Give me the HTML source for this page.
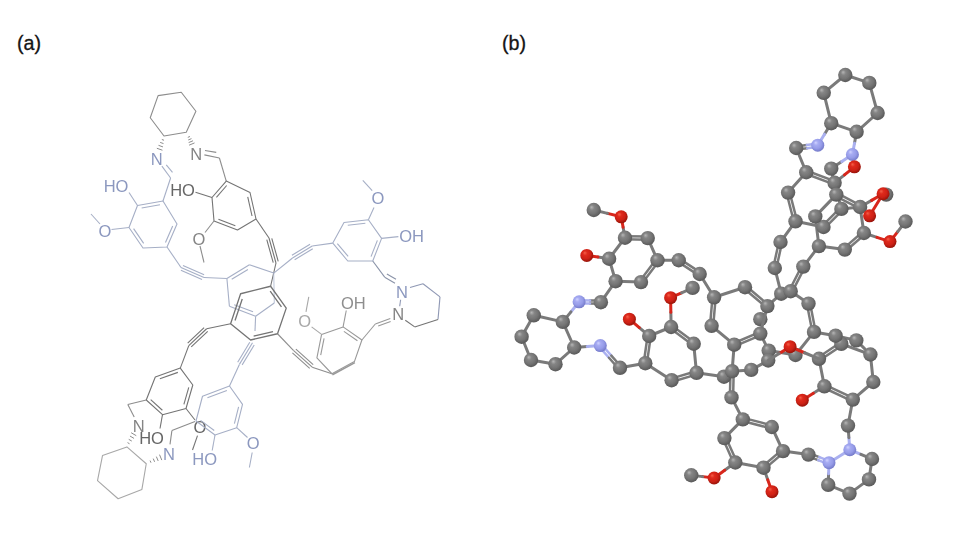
<!DOCTYPE html>
<html><head><meta charset="utf-8"><style>
html,body{margin:0;padding:0;background:#fff;}
body{width:960px;height:545px;overflow:hidden;font-family:"Liberation Sans",sans-serif;}
svg{display:block;font-family:"Liberation Sans",sans-serif;}
</style></head><body>
<svg width="960" height="545" viewBox="0 0 960 545">
<rect width="960" height="545" fill="#ffffff"/>
<text x="17" y="50" font-size="19.7" fill="#151515" stroke="#151515" stroke-width="0.3">(a)</text>
<text x="502" y="50" font-size="19.7" fill="#151515" stroke="#151515" stroke-width="0.3">(b)</text>
<defs><filter id="sa" x="-5%" y="-5%" width="110%" height="110%"><feGaussianBlur stdDeviation="0.45"/></filter><filter id="sb" x="-5%" y="-5%" width="110%" height="110%"><feGaussianBlur stdDeviation="0.55"/></filter></defs>
<g id="pa" filter="url(#sa)">
<polygon points="158.10,95.60 181.25,92.25 195.90,111.25 186.25,132.25 164.00,136.00 150.25,117.75" fill="none" stroke="#8d8d8d" stroke-width="1.1" stroke-linejoin="round"/>
<line x1="164.03" y1="140.26" x2="161.85" y2="139.49" stroke="#8d8d8d" stroke-width="1.0"/>
<line x1="163.50" y1="143.58" x2="160.18" y2="142.42" stroke="#8d8d8d" stroke-width="1.0"/>
<line x1="162.97" y1="146.91" x2="158.51" y2="145.34" stroke="#8d8d8d" stroke-width="1.0"/>
<line x1="162.43" y1="150.23" x2="156.85" y2="148.27" stroke="#8d8d8d" stroke-width="1.0"/>
<line x1="189.96" y1="136.48" x2="187.81" y2="137.37" stroke="#8d8d8d" stroke-width="1.0"/>
<line x1="191.49" y1="138.63" x2="188.23" y2="139.97" stroke="#8d8d8d" stroke-width="1.0"/>
<line x1="193.02" y1="140.78" x2="188.65" y2="142.57" stroke="#8d8d8d" stroke-width="1.0"/>
<line x1="194.55" y1="142.93" x2="189.07" y2="145.17" stroke="#8d8d8d" stroke-width="1.0"/>
<text x="156.60" y="165.16" font-size="16.5" fill="#8c98bf" text-anchor="middle">N</text>
<text x="196.25" y="159.51" font-size="16.5" fill="#858585" text-anchor="middle">N</text>
<line x1="204.40" y1="154.90" x2="219.40" y2="158.00" stroke="#8d8d8d" stroke-width="1.1"/>
<line x1="205.00" y1="150.50" x2="216.25" y2="152.40" stroke="#8d8d8d" stroke-width="1.1"/>
<line x1="219.40" y1="158.00" x2="226.25" y2="181.10" stroke="#8d8d8d" stroke-width="1.1"/>
<line x1="161.90" y1="166.10" x2="170.60" y2="178.00" stroke="#a6afc6" stroke-width="1.1"/>
<line x1="166.25" y1="164.90" x2="172.50" y2="172.40" stroke="#a6afc6" stroke-width="1.1"/>
<line x1="170.60" y1="178.00" x2="163.00" y2="201.00" stroke="#a6afc6" stroke-width="1.1"/>
<polygon points="137.50,205.50 163.00,201.00 177.00,224.00 167.00,247.00 143.00,248.00 129.00,227.50" fill="none" stroke="#a6afc6" stroke-width="1.1" stroke-linejoin="round"/>
<line x1="141.63" y1="208.02" x2="159.99" y2="204.78" stroke="#a6afc6" stroke-width="1.1"/>
<line x1="172.67" y1="225.94" x2="165.47" y2="242.50" stroke="#a6afc6" stroke-width="1.1"/>
<line x1="143.68" y1="243.33" x2="133.60" y2="228.57" stroke="#a6afc6" stroke-width="1.1"/>
<text x="116.00" y="192.41" font-size="16.5" fill="#8c98bf" text-anchor="middle">HO</text>
<line x1="129.00" y1="192.50" x2="137.50" y2="205.50" stroke="#a6afc6" stroke-width="1.1"/>
<text x="105.00" y="236.91" font-size="16.5" fill="#8c98bf" text-anchor="middle">O</text>
<line x1="129.00" y1="227.50" x2="111.50" y2="229.50" stroke="#a6afc6" stroke-width="1.1"/>
<line x1="100.00" y1="224.00" x2="91.00" y2="214.00" stroke="#a6afc6" stroke-width="1.1"/>
<line x1="167.00" y1="247.00" x2="181.00" y2="267.50" stroke="#a6afc6" stroke-width="1.1"/>
<line x1="181.00" y1="267.50" x2="204.00" y2="277.50" stroke="#a6afc6" stroke-width="1.1"/>
<line x1="180.88" y1="270.28" x2="202.04" y2="279.48" stroke="#a6afc6" stroke-width="1.1"/>
<line x1="182.96" y1="265.52" x2="204.12" y2="274.72" stroke="#a6afc6" stroke-width="1.1"/>
<line x1="204.00" y1="277.50" x2="226.90" y2="278.50" stroke="#a6afc6" stroke-width="1.1"/>
<polygon points="226.25,181.10 250.00,192.50 256.00,219.00 237.50,230.00 214.00,221.00 212.00,197.50" fill="none" stroke="#747474" stroke-width="1.1" stroke-linejoin="round"/>
<line x1="247.72" y1="196.92" x2="252.04" y2="216.00" stroke="#747474" stroke-width="1.1"/>
<line x1="235.35" y1="225.75" x2="218.43" y2="219.27" stroke="#747474" stroke-width="1.1"/>
<line x1="216.41" y1="197.30" x2="226.67" y2="185.49" stroke="#747474" stroke-width="1.1"/>
<text x="182.50" y="196.41" font-size="16.5" fill="#666666" text-anchor="middle">HO</text>
<line x1="195.50" y1="192.30" x2="212.00" y2="197.50" stroke="#747474" stroke-width="1.1"/>
<text x="199.00" y="244.91" font-size="16.5" fill="#858585" text-anchor="middle">O</text>
<line x1="214.00" y1="221.00" x2="205.00" y2="232.50" stroke="#8d8d8d" stroke-width="1.1"/>
<line x1="200.00" y1="246.00" x2="204.00" y2="262.50" stroke="#8d8d8d" stroke-width="1.1"/>
<line x1="256.00" y1="219.00" x2="269.00" y2="238.00" stroke="#747474" stroke-width="1.1"/>
<line x1="269.00" y1="238.00" x2="276.00" y2="263.00" stroke="#747474" stroke-width="1.1"/>
<line x1="266.78" y1="239.70" x2="273.22" y2="262.70" stroke="#747474" stroke-width="1.1"/>
<line x1="271.78" y1="238.30" x2="278.22" y2="261.30" stroke="#747474" stroke-width="1.1"/>
<line x1="276.00" y1="263.00" x2="270.60" y2="286.25" stroke="#747474" stroke-width="1.1"/>
<line x1="226.90" y1="278.50" x2="249.40" y2="264.75" stroke="#a6afc6" stroke-width="1.1"/>
<line x1="249.40" y1="264.75" x2="273.75" y2="273.10" stroke="#a6afc6" stroke-width="1.1"/>
<line x1="273.75" y1="273.10" x2="274.30" y2="303.00" stroke="#b4bdd2" stroke-width="0.9"/>
<line x1="274.30" y1="303.00" x2="255.60" y2="316.25" stroke="#a6afc6" stroke-width="1.1"/>
<line x1="255.60" y1="316.25" x2="229.40" y2="306.25" stroke="#a6afc6" stroke-width="1.1"/>
<line x1="229.40" y1="306.25" x2="226.90" y2="278.50" stroke="#a6afc6" stroke-width="1.1"/>
<line x1="231.72" y1="279.31" x2="247.92" y2="269.41" stroke="#a6afc6" stroke-width="1.1"/>
<line x1="253.07" y1="311.86" x2="234.21" y2="304.66" stroke="#a6afc6" stroke-width="1.1"/>
<line x1="255.60" y1="316.25" x2="255.00" y2="331.00" stroke="#a6afc6" stroke-width="1.1"/>
<line x1="252.50" y1="342.80" x2="239.40" y2="364.40" stroke="#a6afc6" stroke-width="1.1"/>
<line x1="249.75" y1="342.32" x2="237.70" y2="362.19" stroke="#a6afc6" stroke-width="1.1"/>
<line x1="254.20" y1="345.01" x2="242.15" y2="364.88" stroke="#a6afc6" stroke-width="1.1"/>
<line x1="239.40" y1="364.40" x2="229.50" y2="386.00" stroke="#a6afc6" stroke-width="1.1"/>
<line x1="332.80" y1="243.10" x2="312.20" y2="246.00" stroke="#a6afc6" stroke-width="1.1"/>
<line x1="312.20" y1="246.00" x2="292.50" y2="258.00" stroke="#a6afc6" stroke-width="1.1"/>
<line x1="310.06" y1="244.26" x2="291.94" y2="255.30" stroke="#a6afc6" stroke-width="1.1"/>
<line x1="312.76" y1="248.70" x2="294.64" y2="259.74" stroke="#a6afc6" stroke-width="1.1"/>
<line x1="292.50" y1="258.00" x2="273.75" y2="273.10" stroke="#a6afc6" stroke-width="1.1"/>
<polygon points="240.60,293.75 270.60,286.25 286.25,308.10 277.50,333.75 250.60,340.00 230.60,323.75" fill="none" stroke="#747474" stroke-width="1.3" stroke-linejoin="round"/>
<line x1="270.19" y1="291.17" x2="281.46" y2="306.90" stroke="#747474" stroke-width="1.3"/>
<line x1="273.01" y1="331.51" x2="253.64" y2="336.01" stroke="#747474" stroke-width="1.3"/>
<line x1="235.04" y1="320.56" x2="242.24" y2="298.96" stroke="#747474" stroke-width="1.3"/>
<line x1="230.60" y1="323.75" x2="206.60" y2="328.75" stroke="#747474" stroke-width="1.1"/>
<line x1="206.60" y1="328.75" x2="188.75" y2="345.60" stroke="#747474" stroke-width="1.1"/>
<line x1="204.10" y1="327.53" x2="187.68" y2="343.04" stroke="#747474" stroke-width="1.1"/>
<line x1="207.67" y1="331.31" x2="191.25" y2="346.82" stroke="#747474" stroke-width="1.1"/>
<line x1="188.75" y1="345.60" x2="180.30" y2="368.10" stroke="#747474" stroke-width="1.1"/>
<line x1="277.50" y1="333.75" x2="293.40" y2="350.30" stroke="#8d8d8d" stroke-width="1.1"/>
<line x1="293.40" y1="350.30" x2="312.20" y2="367.20" stroke="#8d8d8d" stroke-width="1.1"/>
<line x1="292.41" y1="352.91" x2="309.71" y2="368.46" stroke="#8d8d8d" stroke-width="1.1"/>
<line x1="295.89" y1="349.04" x2="313.19" y2="364.59" stroke="#8d8d8d" stroke-width="1.1"/>
<line x1="312.20" y1="367.20" x2="331.90" y2="373.75" stroke="#8d8d8d" stroke-width="1.1"/>
<polygon points="332.80,243.10 344.00,222.50 368.40,219.70 381.60,238.40 372.75,261.00 347.80,261.00" fill="none" stroke="#a6afc6" stroke-width="1.1" stroke-linejoin="round"/>
<line x1="347.78" y1="225.29" x2="365.35" y2="223.27" stroke="#a6afc6" stroke-width="1.1"/>
<line x1="377.38" y1="240.40" x2="371.01" y2="256.67" stroke="#a6afc6" stroke-width="1.1"/>
<line x1="348.15" y1="256.44" x2="337.35" y2="243.55" stroke="#a6afc6" stroke-width="1.1"/>
<text x="377.80" y="203.91" font-size="16.5" fill="#8c98bf" text-anchor="middle">O</text>
<line x1="368.40" y1="219.70" x2="374.00" y2="207.50" stroke="#a6afc6" stroke-width="1.1"/>
<line x1="362.80" y1="180.30" x2="372.20" y2="190.60" stroke="#a6afc6" stroke-width="1.1"/>
<text x="411.50" y="241.51" font-size="16.5" fill="#8c98bf" text-anchor="middle">OH</text>
<line x1="381.60" y1="238.40" x2="398.40" y2="236.60" stroke="#a6afc6" stroke-width="1.1"/>
<line x1="372.75" y1="261.00" x2="384.70" y2="277.20" stroke="#8a93a8" stroke-width="1.1"/>
<line x1="384.70" y1="277.20" x2="395.00" y2="283.20" stroke="#8a93a8" stroke-width="1.1"/>
<line x1="386.90" y1="273.90" x2="396.00" y2="279.20" stroke="#8a93a8" stroke-width="1.1"/>
<text x="402.00" y="297.51" font-size="16.5" fill="#8c98bf" text-anchor="middle">N</text>
<text x="398.20" y="319.66" font-size="16.5" fill="#858585" text-anchor="middle">N</text>
<line x1="410.00" y1="287.50" x2="423.00" y2="283.75" stroke="#8f98b4" stroke-width="1.1"/>
<line x1="423.00" y1="283.75" x2="440.00" y2="296.90" stroke="#8f98b4" stroke-width="1.1"/>
<line x1="440.00" y1="296.90" x2="438.00" y2="319.40" stroke="#8f98b4" stroke-width="1.1"/>
<line x1="438.00" y1="319.40" x2="414.70" y2="326.90" stroke="#747474" stroke-width="1.1"/>
<line x1="414.70" y1="326.90" x2="405.30" y2="320.30" stroke="#747474" stroke-width="1.1"/>
<line x1="400.60" y1="299.70" x2="399.70" y2="306.25" stroke="#8f98b4" stroke-width="1.1"/>
<line x1="390.30" y1="318.40" x2="375.30" y2="324.00" stroke="#999999" stroke-width="1.1"/>
<line x1="390.60" y1="321.40" x2="378.20" y2="326.00" stroke="#999999" stroke-width="1.1"/>
<line x1="375.30" y1="324.00" x2="361.90" y2="340.00" stroke="#999999" stroke-width="1.1"/>
<polygon points="343.10,326.90 361.90,340.00 354.40,361.60 331.90,373.75 316.90,357.80 321.60,334.40" fill="none" stroke="#999999" stroke-width="1.1" stroke-linejoin="round"/>
<line x1="343.90" y1="331.36" x2="357.44" y2="340.79" stroke="#999999" stroke-width="1.1"/>
<line x1="320.70" y1="355.15" x2="324.08" y2="338.31" stroke="#999999" stroke-width="1.1"/>
<line x1="354.90" y1="362.60" x2="332.40" y2="374.75" stroke="#999999" stroke-width="1.6"/>
<text x="353.40" y="309.31" font-size="16.5" fill="#8e8e8e" text-anchor="middle">OH</text>
<line x1="346.25" y1="310.50" x2="343.10" y2="326.90" stroke="#999999" stroke-width="1.1"/>
<text x="304.60" y="327.16" font-size="16.5" fill="#a8a8a8" text-anchor="middle">O</text>
<line x1="308.75" y1="296.90" x2="306.00" y2="311.90" stroke="#a8a8a8" stroke-width="1.1"/>
<line x1="311.60" y1="326.90" x2="321.60" y2="334.40" stroke="#a8a8a8" stroke-width="1.1"/>
<polygon points="180.30,368.10 155.30,377.00 146.25,400.00 162.50,414.70 186.00,408.50 192.80,385.00" fill="none" stroke="#747474" stroke-width="1.1" stroke-linejoin="round"/>
<line x1="177.87" y1="372.36" x2="159.87" y2="378.77" stroke="#747474" stroke-width="1.1"/>
<line x1="150.67" y1="399.68" x2="162.37" y2="410.27" stroke="#747474" stroke-width="1.1"/>
<line x1="183.88" y1="404.32" x2="188.77" y2="387.40" stroke="#747474" stroke-width="1.1"/>
<line x1="146.25" y1="400.00" x2="127.80" y2="404.50" stroke="#8d8d8d" stroke-width="1.1"/>
<line x1="127.80" y1="404.50" x2="134.20" y2="417.00" stroke="#8d8d8d" stroke-width="1.1"/>
<text x="138.75" y="431.51" font-size="16.5" fill="#858585" text-anchor="middle">N</text>
<text x="151.50" y="444.41" font-size="16.5" fill="#666666" text-anchor="middle">HO</text>
<line x1="162.50" y1="414.70" x2="160.00" y2="428.50" stroke="#747474" stroke-width="1.1"/>
<line x1="186.00" y1="408.50" x2="195.00" y2="420.00" stroke="#747474" stroke-width="1.1"/>
<text x="200.00" y="432.91" font-size="16.5" fill="#666666" text-anchor="middle">O</text>
<line x1="197.50" y1="435.60" x2="192.50" y2="450.00" stroke="#747474" stroke-width="1.1"/>
<polygon points="229.50,386.00 202.50,396.25 196.00,421.00 215.00,435.00 236.70,427.70 242.50,404.40" fill="none" stroke="#a6afc6" stroke-width="1.1" stroke-linejoin="round"/>
<line x1="226.86" y1="390.43" x2="207.42" y2="397.81" stroke="#a6afc6" stroke-width="1.1"/>
<line x1="200.56" y1="420.38" x2="214.24" y2="430.46" stroke="#a6afc6" stroke-width="1.1"/>
<line x1="234.41" y1="423.67" x2="238.58" y2="406.89" stroke="#a6afc6" stroke-width="1.1"/>
<line x1="195.00" y1="421.50" x2="171.90" y2="430.60" stroke="#8d8d8d" stroke-width="1.1"/>
<line x1="171.90" y1="430.60" x2="170.00" y2="444.40" stroke="#8d8d8d" stroke-width="1.1"/>
<text x="169.00" y="459.66" font-size="16.5" fill="#8c98bf" text-anchor="middle">N</text>
<text x="204.70" y="464.91" font-size="16.5" fill="#8c98bf" text-anchor="middle">HO</text>
<line x1="215.00" y1="435.00" x2="212.20" y2="450.50" stroke="#a6afc6" stroke-width="1.1"/>
<text x="253.10" y="449.41" font-size="16.5" fill="#8c98bf" text-anchor="middle">O</text>
<line x1="236.70" y1="427.70" x2="247.50" y2="437.50" stroke="#a6afc6" stroke-width="1.1"/>
<line x1="252.20" y1="452.50" x2="249.40" y2="467.50" stroke="#a6afc6" stroke-width="1.1"/>
<polygon points="126.90,446.90 146.25,463.75 141.90,489.40 118.10,498.75 97.50,480.60 102.50,455.60" fill="none" stroke="#a8a8a8" stroke-width="1.1" stroke-linejoin="round"/>
<line x1="127.53" y1="442.62" x2="129.54" y2="443.78" stroke="#8d8d8d" stroke-width="1.0"/>
<line x1="128.73" y1="439.32" x2="131.79" y2="441.08" stroke="#8d8d8d" stroke-width="1.0"/>
<line x1="129.94" y1="436.02" x2="134.03" y2="438.38" stroke="#8d8d8d" stroke-width="1.0"/>
<line x1="131.14" y1="432.72" x2="136.28" y2="435.68" stroke="#8d8d8d" stroke-width="1.0"/>
<line x1="150.07" y1="460.58" x2="150.98" y2="462.71" stroke="#8d8d8d" stroke-width="1.0"/>
<line x1="153.22" y1="458.60" x2="154.58" y2="461.84" stroke="#8d8d8d" stroke-width="1.0"/>
<line x1="156.36" y1="456.62" x2="158.19" y2="460.97" stroke="#8d8d8d" stroke-width="1.0"/>
<line x1="159.50" y1="454.64" x2="161.80" y2="460.10" stroke="#8d8d8d" stroke-width="1.0"/>
</g>
<g id="pb" filter="url(#sb)">
<defs>
<radialGradient id="gC" cx="0.45" cy="0.42" r="0.62" fx="0.34" fy="0.3"><stop offset="0" stop-color="#b6b6b6"/><stop offset="0.28" stop-color="#858585"/><stop offset="0.62" stop-color="#747474"/><stop offset="1" stop-color="#545454"/></radialGradient>
<radialGradient id="gN" cx="0.45" cy="0.42" r="0.62" fx="0.34" fy="0.3"><stop offset="0" stop-color="#d0d3ff"/><stop offset="0.28" stop-color="#a6abf2"/><stop offset="0.62" stop-color="#969ce8"/><stop offset="1" stop-color="#6e74c4"/></radialGradient>
<radialGradient id="gO" cx="0.45" cy="0.42" r="0.62" fx="0.34" fy="0.3"><stop offset="0" stop-color="#f4604a"/><stop offset="0.28" stop-color="#de2a1c"/><stop offset="0.62" stop-color="#cf2216"/><stop offset="1" stop-color="#8e1208"/></radialGradient>
</defs>
<circle cx="760.30" cy="319.20" r="7.2" fill="url(#gC)"/>
<line x1="845.30" y1="75.00" x2="869.30" y2="82.90" stroke="#7a7a7a" stroke-width="3.0" stroke-linecap="round"/>
<line x1="869.30" y1="82.90" x2="877.60" y2="113.00" stroke="#7a7a7a" stroke-width="3.0" stroke-linecap="round"/>
<line x1="877.60" y1="113.00" x2="856.60" y2="131.80" stroke="#7a7a7a" stroke-width="3.0" stroke-linecap="round"/>
<line x1="856.60" y1="131.80" x2="831.25" y2="123.20" stroke="#7a7a7a" stroke-width="3.0" stroke-linecap="round"/>
<line x1="831.25" y1="123.20" x2="823.75" y2="92.80" stroke="#7a7a7a" stroke-width="3.0" stroke-linecap="round"/>
<line x1="823.75" y1="92.80" x2="845.30" y2="75.00" stroke="#7a7a7a" stroke-width="3.0" stroke-linecap="round"/>
<line x1="831.25" y1="123.20" x2="824.50" y2="134.20" stroke="#7a7a7a" stroke-width="3.0" stroke-linecap="round"/>
<line x1="824.50" y1="134.20" x2="817.75" y2="145.20" stroke="#aab0f0" stroke-width="3.0" stroke-linecap="round"/>
<line x1="856.60" y1="131.80" x2="854.50" y2="143.15" stroke="#7a7a7a" stroke-width="3.0" stroke-linecap="round"/>
<line x1="854.50" y1="143.15" x2="852.40" y2="154.50" stroke="#aab0f0" stroke-width="3.0" stroke-linecap="round"/>
<line x1="796.41" y1="149.59" x2="807.18" y2="148.19" stroke="#7a7a7a" stroke-width="2.5" stroke-linecap="round"/>
<line x1="807.18" y1="148.19" x2="817.96" y2="146.79" stroke="#aab0f0" stroke-width="2.5" stroke-linecap="round"/>
<line x1="795.99" y1="146.41" x2="806.77" y2="145.01" stroke="#7a7a7a" stroke-width="2.5" stroke-linecap="round"/>
<line x1="806.77" y1="145.01" x2="817.54" y2="143.61" stroke="#aab0f0" stroke-width="2.5" stroke-linecap="round"/>
<line x1="796.20" y1="148.00" x2="806.25" y2="172.25" stroke="#7a7a7a" stroke-width="3.0" stroke-linecap="round"/>
<line x1="806.25" y1="172.25" x2="788.10" y2="192.60" stroke="#7a7a7a" stroke-width="3.0" stroke-linecap="round"/>
<line x1="786.55" y1="193.00" x2="793.95" y2="221.70" stroke="#7a7a7a" stroke-width="2.5" stroke-linecap="round"/>
<line x1="789.65" y1="192.20" x2="797.05" y2="220.90" stroke="#7a7a7a" stroke-width="2.5" stroke-linecap="round"/>
<line x1="795.50" y1="221.30" x2="823.50" y2="227.00" stroke="#7a7a7a" stroke-width="3.0" stroke-linecap="round"/>
<line x1="824.64" y1="228.13" x2="842.54" y2="210.03" stroke="#7a7a7a" stroke-width="2.5" stroke-linecap="round"/>
<line x1="822.36" y1="225.87" x2="840.26" y2="207.77" stroke="#7a7a7a" stroke-width="2.5" stroke-linecap="round"/>
<line x1="841.40" y1="208.90" x2="834.60" y2="182.80" stroke="#7a7a7a" stroke-width="3.0" stroke-linecap="round"/>
<line x1="835.16" y1="181.30" x2="806.81" y2="170.75" stroke="#7a7a7a" stroke-width="2.5" stroke-linecap="round"/>
<line x1="834.04" y1="184.30" x2="805.69" y2="173.75" stroke="#7a7a7a" stroke-width="2.5" stroke-linecap="round"/>
<line x1="834.60" y1="182.80" x2="844.50" y2="174.80" stroke="#7a7a7a" stroke-width="3.0" stroke-linecap="round"/>
<line x1="844.50" y1="174.80" x2="854.40" y2="166.80" stroke="#d8261a" stroke-width="3.0" stroke-linecap="round"/>
<line x1="831.25" y1="168.60" x2="841.83" y2="161.55" stroke="#7a7a7a" stroke-width="3.0" stroke-linecap="round"/>
<line x1="841.83" y1="161.55" x2="852.40" y2="154.50" stroke="#aab0f0" stroke-width="3.0" stroke-linecap="round"/>
<line x1="831.25" y1="168.60" x2="836.30" y2="194.60" stroke="#7a7a7a" stroke-width="3.0" stroke-linecap="round"/>
<line x1="836.30" y1="194.60" x2="815.30" y2="216.40" stroke="#7a7a7a" stroke-width="3.0" stroke-linecap="round"/>
<line x1="815.30" y1="216.40" x2="818.90" y2="246.10" stroke="#7a7a7a" stroke-width="3.0" stroke-linecap="round"/>
<line x1="818.90" y1="246.10" x2="844.80" y2="249.60" stroke="#7a7a7a" stroke-width="3.0" stroke-linecap="round"/>
<line x1="845.85" y1="250.81" x2="864.95" y2="234.21" stroke="#7a7a7a" stroke-width="2.5" stroke-linecap="round"/>
<line x1="843.75" y1="248.39" x2="862.85" y2="231.79" stroke="#7a7a7a" stroke-width="2.5" stroke-linecap="round"/>
<line x1="863.90" y1="233.00" x2="860.10" y2="207.00" stroke="#7a7a7a" stroke-width="3.0" stroke-linecap="round"/>
<line x1="860.84" y1="205.58" x2="837.04" y2="193.18" stroke="#7a7a7a" stroke-width="2.5" stroke-linecap="round"/>
<line x1="859.36" y1="208.42" x2="835.56" y2="196.02" stroke="#7a7a7a" stroke-width="2.5" stroke-linecap="round"/>
<line x1="841.40" y1="208.90" x2="860.10" y2="207.00" stroke="#7a7a7a" stroke-width="3.0" stroke-linecap="round"/>
<line x1="860.10" y1="207.00" x2="871.60" y2="200.38" stroke="#7a7a7a" stroke-width="3.0" stroke-linecap="round"/>
<line x1="871.60" y1="200.38" x2="883.10" y2="193.75" stroke="#d8261a" stroke-width="3.0" stroke-linecap="round"/>
<line x1="883.10" y1="193.75" x2="869.60" y2="215.80" stroke="#d8261a" stroke-width="3.0" stroke-linecap="round"/>
<line x1="863.90" y1="233.00" x2="876.95" y2="237.30" stroke="#7a7a7a" stroke-width="3.0" stroke-linecap="round"/>
<line x1="876.95" y1="237.30" x2="890.00" y2="241.60" stroke="#d8261a" stroke-width="3.0" stroke-linecap="round"/>
<line x1="890.00" y1="241.60" x2="897.75" y2="231.55" stroke="#d8261a" stroke-width="3.0" stroke-linecap="round"/>
<line x1="897.75" y1="231.55" x2="905.50" y2="221.50" stroke="#7a7a7a" stroke-width="3.0" stroke-linecap="round"/>
<line x1="795.50" y1="221.30" x2="780.50" y2="242.00" stroke="#7a7a7a" stroke-width="3.0" stroke-linecap="round"/>
<line x1="778.94" y1="241.66" x2="773.24" y2="267.66" stroke="#7a7a7a" stroke-width="2.5" stroke-linecap="round"/>
<line x1="782.06" y1="242.34" x2="776.36" y2="268.34" stroke="#7a7a7a" stroke-width="2.5" stroke-linecap="round"/>
<line x1="774.80" y1="268.00" x2="781.20" y2="293.70" stroke="#7a7a7a" stroke-width="3.0" stroke-linecap="round"/>
<line x1="818.90" y1="246.10" x2="803.30" y2="266.60" stroke="#7a7a7a" stroke-width="3.0" stroke-linecap="round"/>
<line x1="801.88" y1="265.87" x2="789.28" y2="290.47" stroke="#7a7a7a" stroke-width="2.5" stroke-linecap="round"/>
<line x1="804.72" y1="267.33" x2="792.12" y2="291.93" stroke="#7a7a7a" stroke-width="2.5" stroke-linecap="round"/>
<line x1="714.10" y1="297.30" x2="745.00" y2="287.20" stroke="#7a7a7a" stroke-width="3.0" stroke-linecap="round"/>
<line x1="743.97" y1="288.42" x2="766.37" y2="307.32" stroke="#7a7a7a" stroke-width="2.5" stroke-linecap="round"/>
<line x1="746.03" y1="285.98" x2="768.43" y2="304.88" stroke="#7a7a7a" stroke-width="2.5" stroke-linecap="round"/>
<line x1="767.40" y1="306.10" x2="760.30" y2="333.60" stroke="#7a7a7a" stroke-width="3.0" stroke-linecap="round"/>
<line x1="759.67" y1="332.13" x2="733.57" y2="343.23" stroke="#7a7a7a" stroke-width="2.5" stroke-linecap="round"/>
<line x1="760.93" y1="335.07" x2="734.83" y2="346.17" stroke="#7a7a7a" stroke-width="2.5" stroke-linecap="round"/>
<line x1="734.20" y1="344.70" x2="711.60" y2="325.80" stroke="#7a7a7a" stroke-width="3.0" stroke-linecap="round"/>
<line x1="713.19" y1="325.94" x2="715.69" y2="297.44" stroke="#7a7a7a" stroke-width="2.5" stroke-linecap="round"/>
<line x1="710.01" y1="325.66" x2="712.51" y2="297.16" stroke="#7a7a7a" stroke-width="2.5" stroke-linecap="round"/>
<line x1="714.10" y1="297.30" x2="699.70" y2="274.00" stroke="#7a7a7a" stroke-width="3.0" stroke-linecap="round"/>
<line x1="700.58" y1="272.66" x2="679.58" y2="258.91" stroke="#7a7a7a" stroke-width="2.5" stroke-linecap="round"/>
<line x1="698.82" y1="275.34" x2="677.82" y2="261.59" stroke="#7a7a7a" stroke-width="2.5" stroke-linecap="round"/>
<line x1="767.40" y1="306.10" x2="781.20" y2="293.70" stroke="#7a7a7a" stroke-width="3.0" stroke-linecap="round"/>
<line x1="790.70" y1="291.20" x2="808.50" y2="303.60" stroke="#7a7a7a" stroke-width="3.0" stroke-linecap="round"/>
<line x1="806.93" y1="303.91" x2="812.43" y2="332.21" stroke="#7a7a7a" stroke-width="2.5" stroke-linecap="round"/>
<line x1="810.07" y1="303.29" x2="815.57" y2="331.59" stroke="#7a7a7a" stroke-width="2.5" stroke-linecap="round"/>
<line x1="814.00" y1="331.90" x2="795.50" y2="355.00" stroke="#7a7a7a" stroke-width="3.0" stroke-linecap="round"/>
<line x1="795.50" y1="355.00" x2="768.70" y2="350.60" stroke="#7a7a7a" stroke-width="3.0" stroke-linecap="round"/>
<line x1="760.30" y1="333.60" x2="768.70" y2="350.60" stroke="#7a7a7a" stroke-width="3.0" stroke-linecap="round"/>
<line x1="734.20" y1="344.70" x2="732.10" y2="371.20" stroke="#7a7a7a" stroke-width="3.0" stroke-linecap="round"/>
<line x1="732.10" y1="371.20" x2="751.20" y2="369.90" stroke="#7a7a7a" stroke-width="3.0" stroke-linecap="round"/>
<line x1="751.20" y1="369.90" x2="768.20" y2="360.50" stroke="#7a7a7a" stroke-width="3.0" stroke-linecap="round"/>
<line x1="730.50" y1="371.16" x2="729.90" y2="397.36" stroke="#7a7a7a" stroke-width="2.5" stroke-linecap="round"/>
<line x1="733.70" y1="371.24" x2="733.10" y2="397.44" stroke="#7a7a7a" stroke-width="2.5" stroke-linecap="round"/>
<line x1="624.98" y1="239.35" x2="647.73" y2="239.70" stroke="#7a7a7a" stroke-width="2.5" stroke-linecap="round"/>
<line x1="625.02" y1="236.15" x2="647.77" y2="236.50" stroke="#7a7a7a" stroke-width="2.5" stroke-linecap="round"/>
<line x1="647.75" y1="238.10" x2="657.50" y2="260.25" stroke="#7a7a7a" stroke-width="3.0" stroke-linecap="round"/>
<line x1="656.22" y1="259.29" x2="639.72" y2="281.14" stroke="#7a7a7a" stroke-width="2.5" stroke-linecap="round"/>
<line x1="658.78" y1="261.21" x2="642.28" y2="283.06" stroke="#7a7a7a" stroke-width="2.5" stroke-linecap="round"/>
<line x1="641.00" y1="282.10" x2="615.60" y2="281.20" stroke="#7a7a7a" stroke-width="3.0" stroke-linecap="round"/>
<line x1="615.60" y1="281.20" x2="609.10" y2="258.75" stroke="#7a7a7a" stroke-width="3.0" stroke-linecap="round"/>
<line x1="609.10" y1="258.75" x2="625.00" y2="237.75" stroke="#7a7a7a" stroke-width="3.0" stroke-linecap="round"/>
<line x1="657.50" y1="260.25" x2="678.70" y2="260.25" stroke="#7a7a7a" stroke-width="3.0" stroke-linecap="round"/>
<line x1="609.10" y1="258.75" x2="597.95" y2="257.07" stroke="#7a7a7a" stroke-width="3.0" stroke-linecap="round"/>
<line x1="597.95" y1="257.07" x2="586.80" y2="255.40" stroke="#d8261a" stroke-width="3.0" stroke-linecap="round"/>
<line x1="625.00" y1="237.75" x2="623.10" y2="227.28" stroke="#7a7a7a" stroke-width="3.0" stroke-linecap="round"/>
<line x1="623.10" y1="227.28" x2="621.20" y2="216.80" stroke="#d8261a" stroke-width="3.0" stroke-linecap="round"/>
<line x1="621.20" y1="216.80" x2="607.48" y2="213.40" stroke="#d8261a" stroke-width="3.0" stroke-linecap="round"/>
<line x1="607.48" y1="213.40" x2="593.75" y2="210.00" stroke="#7a7a7a" stroke-width="3.0" stroke-linecap="round"/>
<line x1="615.60" y1="281.20" x2="600.90" y2="302.20" stroke="#7a7a7a" stroke-width="3.0" stroke-linecap="round"/>
<line x1="600.93" y1="300.60" x2="590.03" y2="300.40" stroke="#7a7a7a" stroke-width="2.5" stroke-linecap="round"/>
<line x1="590.03" y1="300.40" x2="579.13" y2="300.20" stroke="#aab0f0" stroke-width="2.5" stroke-linecap="round"/>
<line x1="600.87" y1="303.80" x2="589.97" y2="303.60" stroke="#7a7a7a" stroke-width="2.5" stroke-linecap="round"/>
<line x1="589.97" y1="303.60" x2="579.07" y2="303.40" stroke="#aab0f0" stroke-width="2.5" stroke-linecap="round"/>
<line x1="562.80" y1="321.90" x2="533.75" y2="315.30" stroke="#7a7a7a" stroke-width="3.0" stroke-linecap="round"/>
<line x1="533.75" y1="315.30" x2="521.60" y2="336.70" stroke="#7a7a7a" stroke-width="3.0" stroke-linecap="round"/>
<line x1="521.60" y1="336.70" x2="531.00" y2="360.00" stroke="#7a7a7a" stroke-width="3.0" stroke-linecap="round"/>
<line x1="531.00" y1="360.00" x2="555.50" y2="364.20" stroke="#7a7a7a" stroke-width="3.0" stroke-linecap="round"/>
<line x1="555.50" y1="364.20" x2="574.20" y2="347.50" stroke="#7a7a7a" stroke-width="3.0" stroke-linecap="round"/>
<line x1="574.20" y1="347.50" x2="562.80" y2="321.90" stroke="#7a7a7a" stroke-width="3.0" stroke-linecap="round"/>
<line x1="579.10" y1="301.80" x2="570.95" y2="311.85" stroke="#aab0f0" stroke-width="3.0" stroke-linecap="round"/>
<line x1="570.95" y1="311.85" x2="562.80" y2="321.90" stroke="#7a7a7a" stroke-width="3.0" stroke-linecap="round"/>
<line x1="574.20" y1="347.50" x2="587.25" y2="346.55" stroke="#7a7a7a" stroke-width="3.0" stroke-linecap="round"/>
<line x1="587.25" y1="346.55" x2="600.30" y2="345.60" stroke="#aab0f0" stroke-width="3.0" stroke-linecap="round"/>
<line x1="599.10" y1="346.66" x2="608.95" y2="357.76" stroke="#aab0f0" stroke-width="2.5" stroke-linecap="round"/>
<line x1="608.95" y1="357.76" x2="618.80" y2="368.86" stroke="#7a7a7a" stroke-width="2.5" stroke-linecap="round"/>
<line x1="601.50" y1="344.54" x2="611.35" y2="355.64" stroke="#aab0f0" stroke-width="2.5" stroke-linecap="round"/>
<line x1="611.35" y1="355.64" x2="621.20" y2="366.74" stroke="#7a7a7a" stroke-width="2.5" stroke-linecap="round"/>
<line x1="620.00" y1="367.80" x2="645.30" y2="363.20" stroke="#7a7a7a" stroke-width="3.0" stroke-linecap="round"/>
<line x1="646.88" y1="363.43" x2="650.78" y2="336.23" stroke="#7a7a7a" stroke-width="2.5" stroke-linecap="round"/>
<line x1="643.72" y1="362.97" x2="647.62" y2="335.77" stroke="#7a7a7a" stroke-width="2.5" stroke-linecap="round"/>
<line x1="649.20" y1="336.00" x2="671.10" y2="327.00" stroke="#7a7a7a" stroke-width="3.0" stroke-linecap="round"/>
<line x1="670.15" y1="328.29" x2="692.75" y2="345.04" stroke="#7a7a7a" stroke-width="2.5" stroke-linecap="round"/>
<line x1="672.05" y1="325.71" x2="694.65" y2="342.46" stroke="#7a7a7a" stroke-width="2.5" stroke-linecap="round"/>
<line x1="693.70" y1="343.75" x2="696.50" y2="372.80" stroke="#7a7a7a" stroke-width="3.0" stroke-linecap="round"/>
<line x1="696.04" y1="371.27" x2="671.14" y2="378.67" stroke="#7a7a7a" stroke-width="2.5" stroke-linecap="round"/>
<line x1="696.96" y1="374.33" x2="672.06" y2="381.73" stroke="#7a7a7a" stroke-width="2.5" stroke-linecap="round"/>
<line x1="671.60" y1="380.20" x2="645.30" y2="363.20" stroke="#7a7a7a" stroke-width="3.0" stroke-linecap="round"/>
<line x1="649.20" y1="336.00" x2="639.30" y2="327.60" stroke="#7a7a7a" stroke-width="3.0" stroke-linecap="round"/>
<line x1="639.30" y1="327.60" x2="629.40" y2="319.20" stroke="#d8261a" stroke-width="3.0" stroke-linecap="round"/>
<line x1="671.10" y1="327.00" x2="670.85" y2="312.35" stroke="#7a7a7a" stroke-width="3.0" stroke-linecap="round"/>
<line x1="670.85" y1="312.35" x2="670.60" y2="297.70" stroke="#d8261a" stroke-width="3.0" stroke-linecap="round"/>
<line x1="670.60" y1="297.70" x2="681.60" y2="292.80" stroke="#d8261a" stroke-width="3.0" stroke-linecap="round"/>
<line x1="681.60" y1="292.80" x2="692.60" y2="287.90" stroke="#7a7a7a" stroke-width="3.0" stroke-linecap="round"/>
<line x1="696.50" y1="372.80" x2="724.00" y2="376.70" stroke="#7a7a7a" stroke-width="3.0" stroke-linecap="round"/>
<line x1="731.50" y1="397.40" x2="742.80" y2="419.40" stroke="#7a7a7a" stroke-width="3.0" stroke-linecap="round"/>
<line x1="742.39" y1="420.95" x2="771.39" y2="428.55" stroke="#7a7a7a" stroke-width="2.5" stroke-linecap="round"/>
<line x1="743.21" y1="417.85" x2="772.21" y2="425.45" stroke="#7a7a7a" stroke-width="2.5" stroke-linecap="round"/>
<line x1="771.80" y1="427.00" x2="783.00" y2="451.10" stroke="#7a7a7a" stroke-width="3.0" stroke-linecap="round"/>
<line x1="781.96" y1="449.88" x2="762.46" y2="466.48" stroke="#7a7a7a" stroke-width="2.5" stroke-linecap="round"/>
<line x1="784.04" y1="452.32" x2="764.54" y2="468.92" stroke="#7a7a7a" stroke-width="2.5" stroke-linecap="round"/>
<line x1="763.50" y1="467.70" x2="735.30" y2="462.50" stroke="#7a7a7a" stroke-width="3.0" stroke-linecap="round"/>
<line x1="736.76" y1="461.85" x2="725.86" y2="437.45" stroke="#7a7a7a" stroke-width="2.5" stroke-linecap="round"/>
<line x1="733.84" y1="463.15" x2="722.94" y2="438.75" stroke="#7a7a7a" stroke-width="2.5" stroke-linecap="round"/>
<line x1="724.40" y1="438.10" x2="742.80" y2="419.40" stroke="#7a7a7a" stroke-width="3.0" stroke-linecap="round"/>
<line x1="735.30" y1="462.50" x2="724.70" y2="470.25" stroke="#7a7a7a" stroke-width="3.0" stroke-linecap="round"/>
<line x1="724.70" y1="470.25" x2="714.10" y2="478.00" stroke="#d8261a" stroke-width="3.0" stroke-linecap="round"/>
<line x1="714.10" y1="478.00" x2="702.67" y2="476.62" stroke="#d8261a" stroke-width="3.0" stroke-linecap="round"/>
<line x1="702.67" y1="476.62" x2="691.25" y2="475.25" stroke="#7a7a7a" stroke-width="3.0" stroke-linecap="round"/>
<line x1="763.50" y1="467.70" x2="767.75" y2="479.70" stroke="#7a7a7a" stroke-width="3.0" stroke-linecap="round"/>
<line x1="767.75" y1="479.70" x2="772.00" y2="491.70" stroke="#d8261a" stroke-width="3.0" stroke-linecap="round"/>
<line x1="783.00" y1="451.10" x2="808.40" y2="454.60" stroke="#7a7a7a" stroke-width="3.0" stroke-linecap="round"/>
<line x1="807.81" y1="456.09" x2="818.11" y2="460.14" stroke="#7a7a7a" stroke-width="2.5" stroke-linecap="round"/>
<line x1="818.11" y1="460.14" x2="828.41" y2="464.19" stroke="#aab0f0" stroke-width="2.5" stroke-linecap="round"/>
<line x1="808.99" y1="453.11" x2="819.29" y2="457.16" stroke="#7a7a7a" stroke-width="2.5" stroke-linecap="round"/>
<line x1="819.29" y1="457.16" x2="829.59" y2="461.21" stroke="#aab0f0" stroke-width="2.5" stroke-linecap="round"/>
<line x1="829.00" y1="462.70" x2="849.80" y2="449.75" stroke="#aab0f0" stroke-width="3.0" stroke-linecap="round"/>
<line x1="849.80" y1="449.75" x2="860.90" y2="454.38" stroke="#aab0f0" stroke-width="3.0" stroke-linecap="round"/>
<line x1="860.90" y1="454.38" x2="872.00" y2="459.00" stroke="#7a7a7a" stroke-width="3.0" stroke-linecap="round"/>
<line x1="872.00" y1="459.00" x2="869.00" y2="479.40" stroke="#7a7a7a" stroke-width="3.0" stroke-linecap="round"/>
<line x1="869.00" y1="479.40" x2="849.50" y2="493.60" stroke="#7a7a7a" stroke-width="3.0" stroke-linecap="round"/>
<line x1="849.50" y1="493.60" x2="828.20" y2="484.80" stroke="#7a7a7a" stroke-width="3.0" stroke-linecap="round"/>
<line x1="828.20" y1="484.80" x2="828.60" y2="473.75" stroke="#7a7a7a" stroke-width="3.0" stroke-linecap="round"/>
<line x1="828.60" y1="473.75" x2="829.00" y2="462.70" stroke="#aab0f0" stroke-width="3.0" stroke-linecap="round"/>
<line x1="849.80" y1="449.75" x2="848.90" y2="437.68" stroke="#aab0f0" stroke-width="3.0" stroke-linecap="round"/>
<line x1="848.90" y1="437.68" x2="848.00" y2="425.60" stroke="#7a7a7a" stroke-width="3.0" stroke-linecap="round"/>
<line x1="819.89" y1="360.13" x2="842.19" y2="345.23" stroke="#7a7a7a" stroke-width="2.5" stroke-linecap="round"/>
<line x1="818.11" y1="357.47" x2="840.41" y2="342.57" stroke="#7a7a7a" stroke-width="2.5" stroke-linecap="round"/>
<line x1="841.30" y1="343.90" x2="870.40" y2="354.50" stroke="#7a7a7a" stroke-width="3.0" stroke-linecap="round"/>
<line x1="870.40" y1="354.50" x2="873.30" y2="382.00" stroke="#7a7a7a" stroke-width="3.0" stroke-linecap="round"/>
<line x1="873.30" y1="382.00" x2="852.80" y2="399.60" stroke="#7a7a7a" stroke-width="3.0" stroke-linecap="round"/>
<line x1="853.48" y1="398.15" x2="825.08" y2="384.85" stroke="#7a7a7a" stroke-width="2.5" stroke-linecap="round"/>
<line x1="852.12" y1="401.05" x2="823.72" y2="387.75" stroke="#7a7a7a" stroke-width="2.5" stroke-linecap="round"/>
<line x1="824.40" y1="386.30" x2="819.00" y2="358.80" stroke="#7a7a7a" stroke-width="3.0" stroke-linecap="round"/>
<line x1="848.00" y1="425.60" x2="852.80" y2="399.60" stroke="#7a7a7a" stroke-width="3.0" stroke-linecap="round"/>
<line x1="824.40" y1="386.30" x2="813.35" y2="393.25" stroke="#7a7a7a" stroke-width="3.0" stroke-linecap="round"/>
<line x1="813.35" y1="393.25" x2="802.30" y2="400.20" stroke="#d8261a" stroke-width="3.0" stroke-linecap="round"/>
<line x1="814.00" y1="331.90" x2="835.60" y2="335.70" stroke="#7a7a7a" stroke-width="3.0" stroke-linecap="round"/>
<line x1="835.60" y1="335.70" x2="856.30" y2="340.40" stroke="#7a7a7a" stroke-width="3.0" stroke-linecap="round"/>
<line x1="856.30" y1="340.40" x2="870.40" y2="354.50" stroke="#7a7a7a" stroke-width="3.0" stroke-linecap="round"/>
<circle cx="886.20" cy="194.60" r="7.2" fill="url(#gC)"/>
<circle cx="724.00" cy="376.70" r="7.2" fill="url(#gC)"/>
<circle cx="845.30" cy="75.00" r="7.2" fill="url(#gC)"/>
<circle cx="869.30" cy="82.90" r="7.2" fill="url(#gC)"/>
<circle cx="877.60" cy="113.00" r="7.2" fill="url(#gC)"/>
<circle cx="856.60" cy="131.80" r="7.2" fill="url(#gC)"/>
<circle cx="831.25" cy="123.20" r="7.2" fill="url(#gC)"/>
<circle cx="823.75" cy="92.80" r="7.2" fill="url(#gC)"/>
<circle cx="817.75" cy="145.20" r="6.5" fill="url(#gN)"/>
<circle cx="852.40" cy="154.50" r="6.5" fill="url(#gN)"/>
<circle cx="796.20" cy="148.00" r="7.2" fill="url(#gC)"/>
<circle cx="806.25" cy="172.25" r="7.2" fill="url(#gC)"/>
<circle cx="788.10" cy="192.60" r="7.2" fill="url(#gC)"/>
<circle cx="795.50" cy="221.30" r="7.2" fill="url(#gC)"/>
<circle cx="823.50" cy="227.00" r="7.2" fill="url(#gC)"/>
<circle cx="841.40" cy="208.90" r="7.2" fill="url(#gC)"/>
<circle cx="834.60" cy="182.80" r="7.2" fill="url(#gC)"/>
<circle cx="854.40" cy="166.80" r="6.5" fill="url(#gO)"/>
<circle cx="831.25" cy="168.60" r="7.2" fill="url(#gC)"/>
<circle cx="836.30" cy="194.60" r="7.2" fill="url(#gC)"/>
<circle cx="815.30" cy="216.40" r="7.2" fill="url(#gC)"/>
<circle cx="818.90" cy="246.10" r="7.2" fill="url(#gC)"/>
<circle cx="844.80" cy="249.60" r="7.2" fill="url(#gC)"/>
<circle cx="863.90" cy="233.00" r="7.2" fill="url(#gC)"/>
<circle cx="860.10" cy="207.00" r="7.2" fill="url(#gC)"/>
<circle cx="883.10" cy="193.75" r="6.5" fill="url(#gO)"/>
<circle cx="869.60" cy="215.80" r="6.5" fill="url(#gO)"/>
<circle cx="890.00" cy="241.60" r="6.5" fill="url(#gO)"/>
<circle cx="905.50" cy="221.50" r="7.2" fill="url(#gC)"/>
<circle cx="780.50" cy="242.00" r="7.2" fill="url(#gC)"/>
<circle cx="774.80" cy="268.00" r="7.2" fill="url(#gC)"/>
<circle cx="781.20" cy="293.70" r="7.2" fill="url(#gC)"/>
<circle cx="803.30" cy="266.60" r="7.2" fill="url(#gC)"/>
<circle cx="790.70" cy="291.20" r="7.2" fill="url(#gC)"/>
<circle cx="714.10" cy="297.30" r="7.2" fill="url(#gC)"/>
<circle cx="745.00" cy="287.20" r="7.2" fill="url(#gC)"/>
<circle cx="767.40" cy="306.10" r="7.2" fill="url(#gC)"/>
<circle cx="760.30" cy="333.60" r="7.2" fill="url(#gC)"/>
<circle cx="734.20" cy="344.70" r="7.2" fill="url(#gC)"/>
<circle cx="711.60" cy="325.80" r="7.2" fill="url(#gC)"/>
<circle cx="699.70" cy="274.00" r="7.2" fill="url(#gC)"/>
<circle cx="678.70" cy="260.25" r="7.2" fill="url(#gC)"/>
<circle cx="808.50" cy="303.60" r="7.2" fill="url(#gC)"/>
<circle cx="814.00" cy="331.90" r="7.2" fill="url(#gC)"/>
<circle cx="795.50" cy="355.00" r="7.2" fill="url(#gC)"/>
<circle cx="768.70" cy="350.60" r="7.2" fill="url(#gC)"/>
<circle cx="768.20" cy="360.50" r="7.2" fill="url(#gC)"/>
<circle cx="732.10" cy="371.20" r="7.2" fill="url(#gC)"/>
<circle cx="751.20" cy="369.90" r="7.2" fill="url(#gC)"/>
<circle cx="731.50" cy="397.40" r="7.2" fill="url(#gC)"/>
<circle cx="625.00" cy="237.75" r="7.2" fill="url(#gC)"/>
<circle cx="647.75" cy="238.10" r="7.2" fill="url(#gC)"/>
<circle cx="657.50" cy="260.25" r="7.2" fill="url(#gC)"/>
<circle cx="641.00" cy="282.10" r="7.2" fill="url(#gC)"/>
<circle cx="615.60" cy="281.20" r="7.2" fill="url(#gC)"/>
<circle cx="609.10" cy="258.75" r="7.2" fill="url(#gC)"/>
<circle cx="586.80" cy="255.40" r="6.5" fill="url(#gO)"/>
<circle cx="621.20" cy="216.80" r="6.5" fill="url(#gO)"/>
<circle cx="593.75" cy="210.00" r="7.2" fill="url(#gC)"/>
<circle cx="600.90" cy="302.20" r="7.2" fill="url(#gC)"/>
<circle cx="579.10" cy="301.80" r="6.5" fill="url(#gN)"/>
<circle cx="562.80" cy="321.90" r="7.2" fill="url(#gC)"/>
<circle cx="533.75" cy="315.30" r="7.2" fill="url(#gC)"/>
<circle cx="521.60" cy="336.70" r="7.2" fill="url(#gC)"/>
<circle cx="531.00" cy="360.00" r="7.2" fill="url(#gC)"/>
<circle cx="555.50" cy="364.20" r="7.2" fill="url(#gC)"/>
<circle cx="574.20" cy="347.50" r="7.2" fill="url(#gC)"/>
<circle cx="600.30" cy="345.60" r="6.5" fill="url(#gN)"/>
<circle cx="620.00" cy="367.80" r="7.2" fill="url(#gC)"/>
<circle cx="645.30" cy="363.20" r="7.2" fill="url(#gC)"/>
<circle cx="649.20" cy="336.00" r="7.2" fill="url(#gC)"/>
<circle cx="671.10" cy="327.00" r="7.2" fill="url(#gC)"/>
<circle cx="693.70" cy="343.75" r="7.2" fill="url(#gC)"/>
<circle cx="696.50" cy="372.80" r="7.2" fill="url(#gC)"/>
<circle cx="671.60" cy="380.20" r="7.2" fill="url(#gC)"/>
<circle cx="629.40" cy="319.20" r="6.5" fill="url(#gO)"/>
<circle cx="670.60" cy="297.70" r="6.5" fill="url(#gO)"/>
<circle cx="692.60" cy="287.90" r="7.2" fill="url(#gC)"/>
<circle cx="742.80" cy="419.40" r="7.2" fill="url(#gC)"/>
<circle cx="771.80" cy="427.00" r="7.2" fill="url(#gC)"/>
<circle cx="783.00" cy="451.10" r="7.2" fill="url(#gC)"/>
<circle cx="763.50" cy="467.70" r="7.2" fill="url(#gC)"/>
<circle cx="735.30" cy="462.50" r="7.2" fill="url(#gC)"/>
<circle cx="724.40" cy="438.10" r="7.2" fill="url(#gC)"/>
<circle cx="714.10" cy="478.00" r="6.5" fill="url(#gO)"/>
<circle cx="691.25" cy="475.25" r="7.2" fill="url(#gC)"/>
<circle cx="772.00" cy="491.70" r="6.5" fill="url(#gO)"/>
<circle cx="808.40" cy="454.60" r="7.2" fill="url(#gC)"/>
<circle cx="829.00" cy="462.70" r="6.5" fill="url(#gN)"/>
<circle cx="849.80" cy="449.75" r="6.5" fill="url(#gN)"/>
<circle cx="872.00" cy="459.00" r="7.2" fill="url(#gC)"/>
<circle cx="869.00" cy="479.40" r="7.2" fill="url(#gC)"/>
<circle cx="849.50" cy="493.60" r="7.2" fill="url(#gC)"/>
<circle cx="828.20" cy="484.80" r="7.2" fill="url(#gC)"/>
<circle cx="848.00" cy="425.60" r="7.2" fill="url(#gC)"/>
<circle cx="819.00" cy="358.80" r="7.2" fill="url(#gC)"/>
<circle cx="841.30" cy="343.90" r="7.2" fill="url(#gC)"/>
<circle cx="870.40" cy="354.50" r="7.2" fill="url(#gC)"/>
<circle cx="873.30" cy="382.00" r="7.2" fill="url(#gC)"/>
<circle cx="852.80" cy="399.60" r="7.2" fill="url(#gC)"/>
<circle cx="824.40" cy="386.30" r="7.2" fill="url(#gC)"/>
<circle cx="802.30" cy="400.20" r="6.5" fill="url(#gO)"/>
<circle cx="835.60" cy="335.70" r="7.2" fill="url(#gC)"/>
<circle cx="856.30" cy="340.40" r="7.2" fill="url(#gC)"/>
<line x1="790.10" y1="346.70" x2="804.55" y2="352.75" stroke="#d8261a" stroke-width="3.0" stroke-linecap="round"/>
<line x1="804.55" y1="352.75" x2="819.00" y2="358.80" stroke="#7a7a7a" stroke-width="3.0" stroke-linecap="round"/>
<line x1="790.10" y1="346.70" x2="779.15" y2="353.60" stroke="#d8261a" stroke-width="3.0" stroke-linecap="round"/>
<line x1="779.15" y1="353.60" x2="768.20" y2="360.50" stroke="#7a7a7a" stroke-width="3.0" stroke-linecap="round"/>
<circle cx="790.10" cy="346.70" r="6.5" fill="url(#gO)"/>
</g>
</svg>
</body></html>
